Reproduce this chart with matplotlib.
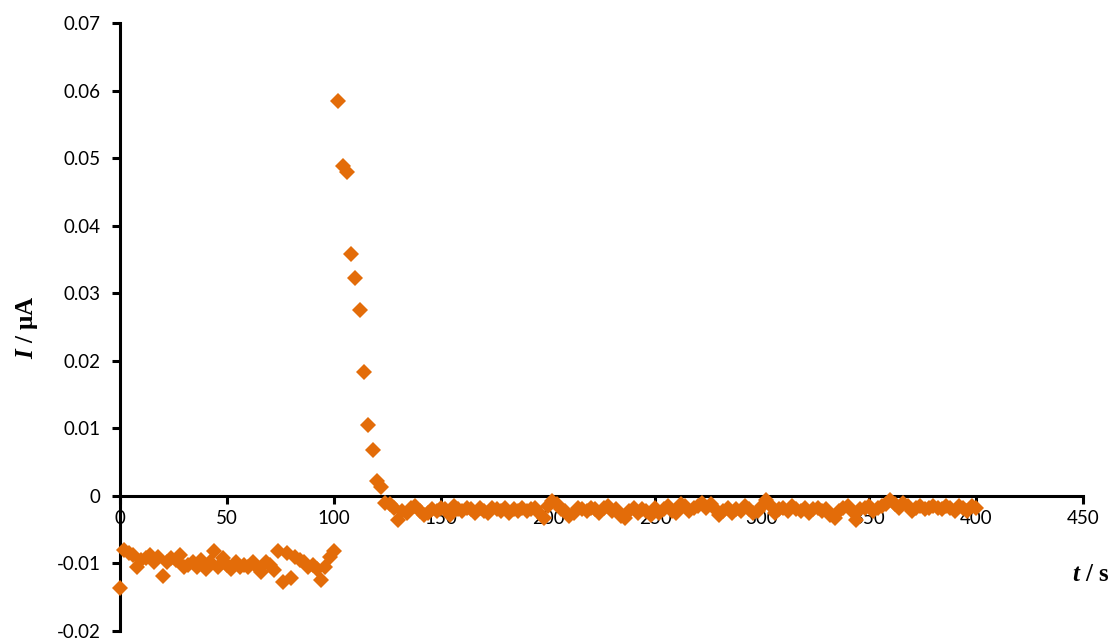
import numpy as np
import matplotlib
matplotlib.use("Agg")
import matplotlib.pyplot as plt
from matplotlib.ticker import FuncFormatter

# time axis, sampled every 2 s
t_s = np.arange(0, 402, 2)

# current before the step (0-100 s)
i_before = [-0.0137, -0.0080, -0.0085, -0.0088, -0.0105, -0.0095, -0.0092, -0.0088, -0.0098, -0.0090,
            -0.0118, -0.0098, -0.0092, -0.0095, -0.0088, -0.0105, -0.0102, -0.0098, -0.0105, -0.0095,
            -0.0108, -0.0098, -0.0082, -0.0105, -0.0092, -0.0102, -0.0108, -0.0098, -0.0105, -0.0102,
            -0.0105, -0.0098, -0.0105, -0.0112, -0.0098, -0.0102, -0.0110, -0.0082, -0.0128, -0.0085,
            -0.0122, -0.0090, -0.0095, -0.0098, -0.0105, -0.0102, -0.0108, -0.0125, -0.0105, -0.0090,
            -0.0082]

# peak and decay (102-130 s)
i_peak = [0.0585, 0.0489, 0.0479, 0.0358, 0.0322, 0.0275, 0.0184, 0.0105, 0.0068, 0.0022,
          0.0013, -0.0010, -0.0012, -0.0018, -0.0035]

# baseline after the peak (132-400 s)
i_after = [-0.0022, -0.0025, -0.0018, -0.0015, -0.0022, -0.0028, -0.0025, -0.0020, -0.0022, -0.0018,
           -0.0020, -0.0028, -0.0015, -0.0020, -0.0022, -0.0018, -0.0020, -0.0025, -0.0018, -0.0022,
           -0.0025, -0.0018, -0.0020, -0.0022, -0.0018, -0.0025, -0.0020, -0.0022, -0.0018, -0.0022,
           -0.0020, -0.0018, -0.0025, -0.0032, -0.0015, -0.0008, -0.0012, -0.0020, -0.0022, -0.0030,
           -0.0025, -0.0018, -0.0020, -0.0022, -0.0018, -0.0020, -0.0025, -0.0018, -0.0015, -0.0022,
           -0.0020, -0.0030, -0.0032, -0.0022, -0.0018, -0.0025, -0.0020, -0.0022, -0.0028, -0.0018,
           -0.0025, -0.0020, -0.0015, -0.0022, -0.0025, -0.0012, -0.0015, -0.0022, -0.0018, -0.0015,
           -0.0010, -0.0018, -0.0012, -0.0020, -0.0028, -0.0022, -0.0018, -0.0025, -0.0020, -0.0022,
           -0.0015, -0.0020, -0.0025, -0.0022, -0.0015, -0.0006, -0.0015, -0.0025, -0.0020, -0.0018,
           -0.0022, -0.0015, -0.0020, -0.0022, -0.0018, -0.0025, -0.0020, -0.0018, -0.0022, -0.0020,
           -0.0028, -0.0032, -0.0022, -0.0018, -0.0015, -0.0022, -0.0035, -0.0020, -0.0018, -0.0015,
           -0.0022, -0.0018, -0.0015, -0.0012, -0.0006, -0.0012, -0.0018, -0.0010, -0.0015, -0.0022,
           -0.0018, -0.0015, -0.0020, -0.0018, -0.0015, -0.0018, -0.0020, -0.0015, -0.0018, -0.0022,
           -0.0015, -0.0018, -0.0022, -0.0015, -0.0018]

current = np.array(i_before + i_peak + i_after)

x_ticks = np.arange(0, 451, 50)
y_ticks = np.arange(-0.02, 0.0701, 0.01)

plt.rcParams['axes.unicode_minus'] = False
plt.rcParams['mathtext.fontset'] = 'custom'
plt.rcParams['mathtext.it'] = 'Liberation Serif:italic:bold'
plt.rcParams['mathtext.rm'] = 'Liberation Serif:bold'

fig = plt.figure(figsize=(11.14, 6.41), dpi=100)
ax = fig.add_axes([0.1077, 0.0156, 0.8645, 0.9485])

ax.plot(t_s, current, linestyle='none', marker='D', markersize=8,
        markeredgewidth=0, color='#E36C09', zorder=5, clip_on=False)

ax.set_xlim(0, 450)
ax.set_ylim(-0.02, 0.07)
ax.set_xticks(x_ticks)
ax.set_yticks(y_ticks)
ax.yaxis.set_major_formatter(FuncFormatter(lambda v, p: f'{round(v, 2):g}'))

for side in ['top', 'right']:
    ax.spines[side].set_visible(False)
ax.spines['bottom'].set_position(('data', 0))
ax.spines['left'].set_position(('data', 0))
for side in ['bottom', 'left']:
    ax.spines[side].set_linewidth(2.2)

ax.tick_params(axis='both', direction='out', length=6, width=2.2, labelsize=13.5)
ax.tick_params(axis='y', pad=8)
ax.tick_params(axis='x', pad=4)
for lab in ax.get_xticklabels() + ax.get_yticklabels():
    lab.set_fontfamily('Lato')

ax.set_ylabel(r'$I$ / μA', fontfamily='Liberation Serif', fontweight='bold',
              fontsize=18, labelpad=12)
fig.text(0.996, 0.103, r'$t$ / s', fontfamily='Liberation Serif', fontweight='bold',
         fontsize=18, ha='right', va='center')

fig.savefig('out.png', dpi=100)
